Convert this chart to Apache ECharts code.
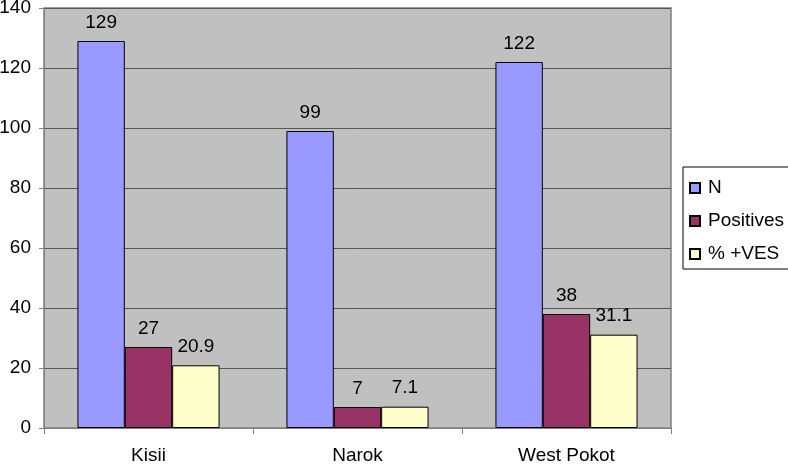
<!DOCTYPE html>
<html><head><meta charset="utf-8">
<script src="https://cdn.jsdelivr.net/npm/echarts@6/dist/echarts.min.js"></script>
<style>html,body{margin:0;padding:0;background:#fff}#c{width:788px;height:468px}</style>
</head><body><div id="c"></div>
<script>
const categories = ['Kisii', 'Narok', 'West Pokot'];
const seriesN = [129, 99, 122];
const seriesPositives = [27, 7, 38];
const seriesPctVes = [20.9, 7.1, 31.1];
const seriesNames = ['N', 'Positives', '% +VES'];
const colors = ['#9999ff', '#993366', '#ffffcc'];

const font = 'Liberation Sans, Arial, sans-serif';
const chart = echarts.init(document.getElementById('c'));
function mk(name, data, color) {
  return {
    name, type: 'bar', data, barGap: '0%', barCategoryGap: '32%',
    itemStyle: { color, borderColor: '#000', borderWidth: 1 },
    label: { show: true, position: 'top', distance: 9, color: '#000', fontFamily: font, fontSize: 19 }
  };
}
chart.setOption({
  animation: false,
  grid: { left: 44, top: 8, right: 117, bottom: 40, containLabel: false, outerBoundsMode: 'none', show: true, backgroundColor: '#c0c0c0', borderColor: '#808080', borderWidth: 1.5 },
  legend: {
    orient: 'vertical', left: 683, top: 167, icon: 'rect',
    itemWidth: 10, itemHeight: 10, itemGap: 13,
    padding: [11, 20, 5, 6],
    borderColor: '#000', borderWidth: 1, backgroundColor: '#fff',
    textStyle: { fontFamily: font, fontSize: 19, color: '#000', lineHeight: 20, padding: [0, 0, 0, 3] },
    data: seriesNames
  },
  xAxis: {
    type: 'category', data: categories,
    axisLine: { lineStyle: { color: '#808080' } },
    axisTick: { show: true, length: 6, lineStyle: { color: '#808080' } },
    axisLabel: { color: '#000', fontFamily: font, fontSize: 19, margin: 18 }
  },
  yAxis: {
    type: 'value', min: 0, max: 140, interval: 20,
    axisLine: { show: true, lineStyle: { color: '#808080' } },
    axisTick: { show: true, length: 5, lineStyle: { color: '#808080' } },
    axisLabel: { color: '#000', fontFamily: font, fontSize: 19, margin: 13 },
    splitLine: { lineStyle: { color: '#555', width: 1 } }
  },
  series: [
    mk(seriesNames[0], seriesN, colors[0]),
    mk(seriesNames[1], seriesPositives, colors[1]),
    mk(seriesNames[2], seriesPctVes, colors[2])
  ]
});
</script></body></html>
